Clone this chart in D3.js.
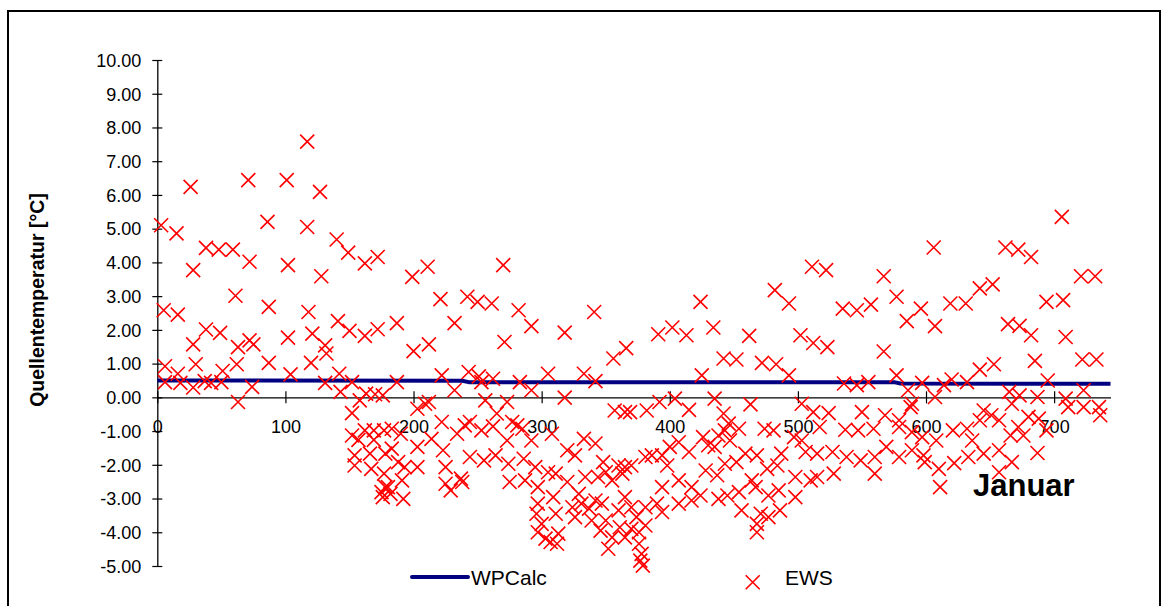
<!DOCTYPE html>
<html><head><meta charset="utf-8">
<script src="https://cdn.jsdelivr.net/npm/d3@7/dist/d3.min.js"></script>
<style>
html,body{margin:0;padding:0;background:#fff;}
svg{display:block;font-family:"Liberation Sans",Arial,sans-serif;}
</style></head>
<body>
<svg id="chart" width="1168" height="606"></svg>
<script>
const xTicks = [0,100,200,300,400,500,600,700];
const yTicks = [-5,-4,-3,-2,-1,0,1,2,3,4,5,6,7,8,9,10];
const seriesNames = ["WPCalc","EWS"];
const wpcalc = [[0,0.50],[238,0.49],[243,0.45],[575,0.45],[580,0.41],[744,0.40]];
const ews = [
[117,7.58],[26,6.24],[71,6.44],[101,6.44],[127,6.09],[3,5.10],[15,4.86],[86,5.20],[117,5.05],[140,4.68],
[38,4.43],[48,4.38],[59,4.38],[149,4.29],[72,4.02],[102,3.92],[162,3.97],[172,4.16],[28,3.77],[128,3.59],
[61,3.01],[5,2.58],[16,2.45],[87,2.68],[118,2.53],[141,2.26],[150,1.97],[162,1.82],[172,2.02],[38,2.01],
[49,1.91],[28,1.57],[63,1.49],[72,1.69],[75,1.57],[102,1.77],[121,1.89],[131,1.54],
[132,1.30],[6,0.92],[30,0.98],[62,0.98],[51,0.78],[87,1.02],[120,1.02],[142,0.70],[6,0.45],[16,0.70],
[18,0.43],[28,0.29],[37,0.48],[42,0.43],[50,0.45],[74,0.31],[63,-0.14],[104,0.68],[131,0.43],[143,0.16],
[152,0.45],[152,-0.47],[158,-0.09],[163,0.11],[170,0.09],[176,0.06],[152,-1.13],[162,-0.98],[169,-0.98],
[177,-0.98],[157,-1.26],[169,-1.26],[154,-1.72],[166,-1.67],[178,-1.67],[154,-2.02],[167,-2.12],[177,-2.26],
[178,-2.66],[176,-2.96],[175,-2.81],
[199,3.57],[211,3.87],[270,3.92],[187,2.20],[221,2.91],[242,2.98],[250,2.83],[261,2.78],[282,2.58],[292,2.11],
[232,2.20],[318,1.92],[341,2.53],[212,1.57],[200,1.37],[271,1.64],[366,1.46],
[356,1.15],[187,0.45],[222,0.65],[232,0.21],[243,0.75],[251,0.62],[253,0.45],[262,0.55],[283,0.45],[292,0.21],
[305,0.70],[333,0.70],[342,0.48],[318,-0.01],[256,-0.09],[273,-0.14],[212,-0.14],[203,-0.34],[357,-0.39],
[365,-0.44],[209,-0.19],[222,-0.73],[244,-0.73],[240,-0.83],[265,-0.48],[277,-0.73],[281,-0.83],[285,-0.93],
[262,-0.86],[253,-0.98],[292,-1.28],[308,-1.08],[333,-1.23],[342,-1.37],[273,-1.28],[234,-1.08],[214,-1.23],
[183,-0.93],[190,-1.08],[203,-1.47],[223,-1.57],[183,-1.52],[244,-1.77],[255,-1.87],[264,-1.72],[274,-1.97],
[286,-1.82],[295,-2.07],[320,-1.57],[326,-1.72],[348,-1.92],[360,-2.02],[365,-2.07],[188,-1.92],[193,-2.07],
[203,-2.07],[191,-2.46],[180,-2.66],[192,-3.01],[182,-2.86],[225,-2.07],[225,-2.56],[229,-2.76],[237,-2.41],
[238,-2.51],[275,-2.51],[287,-2.46],[297,-2.66],[305,-2.22],[311,-2.26],[320,-2.51],[329,-2.86],[334,-2.36],
[344,-2.36],[355,-2.46],[350,-2.22],[363,-2.26],[309,-2.96],[297,-3.15],[296,-3.45],[300,-3.75],[297,-4.00],
[303,-4.19],[311,-3.45],[313,-4.04],[312,-4.34],[307,-4.29],[324,-3.26],[326,-3.55],[331,-3.15],[337,-3.30],
[342,-3.06],[347,-3.15],[339,-3.65],[346,-3.95],[350,-3.65],[355,-4.15],[352,-4.49],[361,-3.85],[365,-2.96],
[360,-3.35],[365,-4.15],
[511,3.87],[522,3.77],[482,3.18],[493,2.78],[424,2.83],[535,2.63],[546,2.58],[557,2.75],[391,1.87],[402,2.07],
[413,1.84],[434,2.07],[462,1.82],[502,1.84],[512,1.61],[523,1.49],
[442,1.15],[452,1.12],[472,1.02],[483,0.98],[425,0.65],[493,0.65],[536,0.41],[546,0.36],[555,0.45],[369,-0.44],
[382,-0.39],[392,-0.14],[404,-0.04],[415,-0.37],[435,-0.04],[463,-0.21],[503,-0.19],[512,-0.44],[524,-0.47],
[550,-0.44],[442,-0.48],[446,-0.78],[454,-0.93],[443,-0.98],[438,-1.13],[426,-1.18],[430,-1.42],[435,-1.47],
[447,-1.28],[474,-0.93],[481,-0.98],[497,-1.18],[503,-1.28],[517,-0.88],[537,-0.96],[547,-0.98],[407,-1.33],
[415,-1.62],[400,-1.47],[394,-1.72],[386,-1.72],[381,-1.77],[398,-2.02],[370,-2.02],[459,-1.67],[468,-1.72],
[452,-1.92],[443,-1.97],[487,-1.67],[484,-2.02],[476,-2.12],[506,-1.62],[515,-1.67],[527,-1.62],[538,-1.77],
[549,-1.87],[428,-2.17],[437,-2.31],[407,-2.46],[394,-2.66],[417,-2.66],[424,-2.91],[438,-3.01],[445,-2.91],
[454,-2.81],[464,-2.46],[467,-2.66],[477,-2.91],[485,-2.76],[498,-2.96],[498,-2.36],[510,-2.46],[515,-2.36],
[528,-2.26],[407,-3.15],[417,-3.06],[456,-3.35],[471,-3.45],[477,-3.55],[486,-3.35],[468,-3.75],[468,-4.00],
[381,-3.26],[390,-3.15],[394,-3.40],[370,-3.26],[374,-3.55],[381,-3.80],[370,-3.90],[376,-4.00],[376,-4.34],
[378,-4.64],[377,-4.84],[379,-4.99],
[706,5.35],[606,4.44],[662,4.44],[672,4.38],[682,4.16],[567,3.59],[642,3.23],[652,3.35],[721,3.59],[732,3.59],
[577,2.98],[596,2.63],[585,2.26],[607,2.11],[619,2.78],[631,2.78],[664,2.17],[673,2.12],[682,1.84],[694,2.83],
[707,2.88],[709,1.79],[567,1.36],
[577,0.65],[586,0.21],[597,0.43],[607,0.01],[614,0.36],[620,0.53],[632,0.45],[642,0.82],[653,0.98],[685,1.08],
[695,0.50],[722,1.12],[733,1.12],[723,0.21],[709,-0.04],[711,-0.29],[723,-0.29],[735,-0.29],[736,-0.53],
[589,-0.19],[588,-0.29],[665,0.16],[673,0.06],[687,0.01],[667,-0.19],[568,-0.53],[579,-0.68],[559,-0.93],
[579,-0.88],[589,-1.03],[597,-1.18],[608,-1.28],[621,-0.98],[632,-0.93],[636,-1.28],[645,-0.39],[642,-0.68],
[651,-0.53],[657,-0.68],[666,-1.13],[676,-1.13],[672,-0.88],[680,-0.58],[688,-0.63],[694,-0.98],[560,-1.77],
[560,-2.26],[569,-1.47],[579,-1.77],[589,-1.57],[598,-1.72],[599,-1.92],[610,-2.12],[611,-2.66],[622,-1.95],
[633,-1.77],[645,-1.67],[657,-1.57],[657,-2.22],[667,-1.92],[687,-1.65]
];

const svg = d3.select("#chart");
svg.append("rect").attr("x",0).attr("y",0).attr("width",1168).attr("height",606).attr("fill","#fff");
svg.append("rect").attr("x",8).attr("y",11).attr("width",1152).attr("height",620)
  .attr("fill","none").attr("stroke","#000").attr("stroke-width",2);

const x = d3.scaleLinear().domain([0,744]).range([157.3,1110.5]);
const y = d3.scaleLinear().domain([-5,10]).range([566,60]);

const fmtY = d => d3.format(".2f")(d).replace("\u2212","-");

// y axis
const gy = svg.append("g").attr("transform",`translate(${x(0)},0)`)
  .call(d3.axisLeft(y).tickValues(yTicks).tickFormat(fmtY).tickSizeOuter(0).tickSizeInner(5).tickPadding(11));
gy.select(".domain").attr("stroke","#000").attr("stroke-width",1.3);
gy.selectAll(".tick line").attr("x1",-5).attr("x2",5).attr("stroke","#000").attr("stroke-width",1.2);
gy.selectAll(".tick text").attr("x",-16).attr("dy","0.35em").attr("font-size",18).attr("fill","#000")
  .attr("font-family","Liberation Sans, Arial, sans-serif");

// x axis
const gx = svg.append("g").attr("transform",`translate(0,${y(0)})`)
  .call(d3.axisBottom(x).tickValues(xTicks).tickFormat(d3.format("d")).tickSizeOuter(0).tickSizeInner(6));
gx.select(".domain").attr("stroke","#000").attr("stroke-width",1.3);
gx.selectAll(".tick line").attr("y1",-6).attr("y2",6).attr("stroke","#000").attr("stroke-width",1.2);
gx.selectAll(".tick text").attr("y",36).attr("dy",0).attr("font-size",18).attr("fill","#000")
  .attr("font-family","Liberation Sans, Arial, sans-serif");

// WPCalc line
svg.append("path").datum(wpcalc)
  .attr("d", d3.line().x(d=>x(d[0])).y(d=>y(d[1])))
  .attr("fill","none").attr("stroke","#000080").attr("stroke-width",4).attr("stroke-linejoin","round");

// EWS markers
const s = 7;
const cross = (cx,cy)=>`M${cx-s},${cy-s}L${cx+s},${cy+s}M${cx-s},${cy+s}L${cx+s},${cy-s}`;
svg.append("g").selectAll("path").data(ews).join("path")
  .attr("d", d=>cross(x(d[0]),y(d[1])))
  .attr("stroke","#ff0000").attr("stroke-width",1.6).attr("fill","none");

// y title
svg.append("text").attr("transform","translate(44,300) rotate(-90)")
  .attr("text-anchor","middle").attr("font-weight","bold").attr("font-size",19.5)
  .text("Quellentemperatur [°C]");

// Januar
svg.append("text").attr("x",973).attr("y",496).attr("font-weight","bold").attr("font-size",31)
  .text("Januar");

// legend
svg.append("line").attr("x1",412).attr("x2",468).attr("y1",577).attr("y2",577)
  .attr("stroke","#000080").attr("stroke-width",4).attr("stroke-linecap","round");
svg.append("text").attr("x",471).attr("y",585).attr("font-size",21).text(seriesNames[0]);
svg.append("path").attr("d",cross(752.7,582.3)).attr("stroke","#ff0000").attr("stroke-width",1.6);
svg.append("text").attr("x",785).attr("y",585).attr("font-size",21).text(seriesNames[1]);
</script>
</body></html>
